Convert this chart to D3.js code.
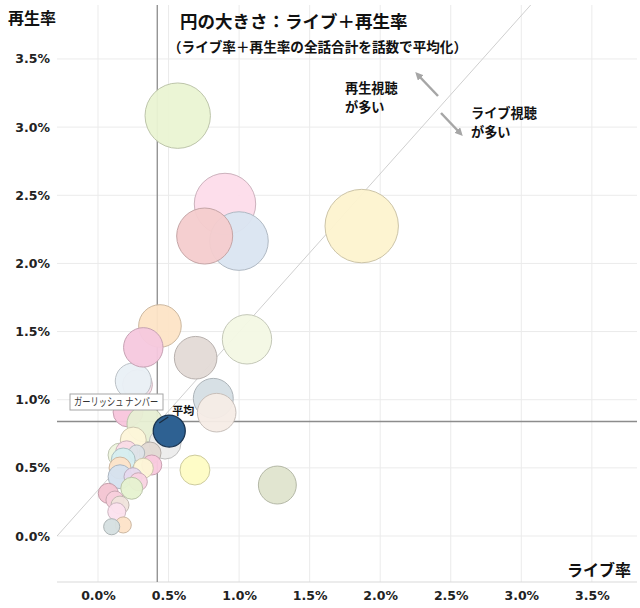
<!DOCTYPE html>
<html><head><meta charset="utf-8">
<script src="https://cdn.jsdelivr.net/npm/d3@7"></script>
<style>
html,body{margin:0;padding:0;background:#fff;}
svg text{font-family:"Noto Sans CJK JP","Noto Sans",sans-serif;}
</style></head>
<body><svg id="chart" width="640" height="608"></svg>
<script>
// ---- data (percent values) ----
const liveRate   = [0.900,0.999,0.756,0.565,1.869,0.439,0.692,1.056,0.817,0.841,0.280,0.250,0.321,0.213,0.333,0.250,0.475,0.369,0.156,0.203,0.274,0.179,0.381,0.321,0.156,0.156,0.248,0.286,0.239,0.073,0.120,0.156,0.133,0.179,0.097,0.687,1.271];
const replayRate = [2.436,2.164,2.201,3.084,2.274,1.541,1.308,1.443,1.010,0.905,1.110,1.137,1.384,0.910,0.822,0.704,0.682,0.609,0.594,0.618,0.609,0.558,0.521,0.497,0.499,0.435,0.435,0.398,0.350,0.313,0.264,0.227,0.178,0.081,0.068,0.484,0.374];
const sizeValue  = [2.91,2.65,2.42,3.30,4.16,1.40,1.40,1.88,1.23,1.15,0.69,1.00,1.20,0.69,1.00,0.52,0.79,0.37,0.44,0.37,0.20,0.44,0.31,0.31,0.37,0.44,0.25,0.25,0.37,0.31,0.25,0.25,0.25,0.20,0.20,0.69,1.11];
const bubbleColors = ["#fddcea","#dae5f1","#f4cccd","#eaf4d3","#fdf3cf","#fde4c6","#e3dad6","#f3f8e4","#d5dee4","#f6ece6","#fbe0ea","#e9f0f6","#f5c8de","#f8c5dc","#e7efd3","#fdf5d9","#ececec","#e2d9d3","#eef5de","#fadbe7","#dde3e8","#d5eef0","#f9c9dd","#fdf5d6","#fde3c8","#d5e1ef","#e7d9ee","#f9d3e1","#e6f2d0","#f3c4d2","#f8d0dc","#f0e4dc","#fce1ee","#fde3c8","#d5dfe0","#fefcc4","#dfe4cd"];
const average = {live:0.505, replay:0.770, size:0.79, label:"平均"};
const meanLive = 0.42, meanReplay = 0.84;
const refLine = [[-0.29,0.0],[3.07,3.9]];
const xTicks = [0,0.5,1.0,1.5,2.0,2.5,3.0,3.5];
const yTicks = [0,0.5,1.0,1.5,2.0,2.5,3.0,3.5];
const titleText = "円の大きさ：ライブ＋再生率";
const subtitleText = "（ライブ率＋再生率の全話合計を話数で平均化）";
const yAxisTitle = "再生率", xAxisTitle = "ライブ率";
const noteUp = ["再生視聴","が多い"], noteDown = ["ライブ視聴","が多い"];
const calloutText = "ガーリッシュ ナンバー";

// ---- layout ----
const L=57,R=637,T=5,B=582;
const svg = d3.select("#chart");
const x = d3.scaleLinear().domain([-0.2906,3.820]).range([L,R]);
const y = d3.scaleLinear().domain([-0.3375,3.896]).range([B,T]);
const r = d3.scaleSqrt().domain([0,1]).range([0,18]);
const fmt = d => d.toFixed(1)+"%";

const defs = svg.append("defs");
defs.append("clipPath").attr("id","plot").append("rect").attr("x",L).attr("y",T).attr("width",R-L).attr("height",B-T);

// grid
svg.append("g").selectAll("line").data(xTicks).join("line")
  .attr("x1",d=>x(d)).attr("x2",d=>x(d)).attr("y1",T).attr("y2",B)
  .attr("stroke","#ebebeb").attr("stroke-width",1);
svg.append("g").selectAll("line").data(yTicks).join("line")
  .attr("x1",L).attr("x2",R).attr("y1",d=>y(d)).attr("y2",d=>y(d))
  .attr("stroke","#ebebeb").attr("stroke-width",1);
svg.append("line").attr("x1",L).attr("x2",R).attr("y1",B).attr("y2",B).attr("stroke","#d9d9d9");

// axes labels via d3 axes
const xAxis = svg.append("g").attr("transform",`translate(0,${B})`)
  .call(d3.axisBottom(x).tickValues(xTicks).tickFormat(fmt).tickSize(0).tickPadding(9));
const yAxis = svg.append("g").attr("transform",`translate(${L},0)`)
  .call(d3.axisLeft(y).tickValues(yTicks).tickFormat(fmt).tickSize(0).tickPadding(7));
[xAxis,yAxis].forEach(a=>{
  a.select(".domain").remove();
  a.selectAll("text").attr("font-size",12.5).attr("font-weight","bold").attr("fill","#222")
   .style("font-family",'"DejaVu Sans",sans-serif');
});

// reference diagonal
svg.append("path").datum(refLine).attr("clip-path","url(#plot)")
  .attr("d",d3.line().x(d=>x(d[0])).y(d=>y(d[1])))
  .attr("stroke","#cfcfcf").attr("stroke-width",1).attr("fill","none");

// mean lines
svg.append("line").attr("x1",x(meanLive)).attr("x2",x(meanLive)).attr("y1",T).attr("y2",B)
  .attr("stroke","#8c8c8c").attr("stroke-width",1.3);
svg.append("line").attr("x1",L).attr("x2",R).attr("y1",y(meanReplay)).attr("y2",y(meanReplay))
  .attr("stroke","#8c8c8c").attr("stroke-width",1.3);

// bubbles
const data = liveRate.map((v,i)=>({live:v, replay:replayRate[i], size:sizeValue[i], color:bubbleColors[i]}));
svg.append("g").selectAll("circle").data(data).join("circle")
  .attr("cx",d=>x(d.live)).attr("cy",d=>y(d.replay)).attr("r",d=>r(d.size))
  .attr("fill",d=>d.color).attr("fill-opacity",0.95)
  .attr("stroke",d=>d3.color(d.color).darker(0.6)).attr("stroke-width",1);

// average bubble
svg.append("circle").attr("cx",x(average.live)).attr("cy",y(average.replay)).attr("r",r(average.size))
  .attr("fill","#2e6192").attr("stroke","#1a3552").attr("stroke-width",1.3);
svg.append("line").attr("x1",x(average.live)-10).attr("y1",y(average.replay)-8)
  .attr("x2",x(average.live)-1).attr("y2",y(average.replay)-14)
  .attr("stroke","#1c2d40").attr("stroke-width",1.3);
svg.append("text").attr("x",x(average.live)+3).attr("y",y(average.replay)-16)
  .attr("font-size",11).attr("font-weight","bold").attr("fill","#111").text(average.label);

// callout box
const cb = svg.append("g");
cb.append("rect").attr("x",70).attr("y",394).attr("width",93).attr("height",16)
  .attr("fill","#fff").attr("stroke","#a6a6a6");
cb.append("text").attr("transform","translate(74,406) scale(0.75,1)").attr("font-size",11).attr("fill","#333")
  .text(calloutText);

// titles
svg.append("text").attr("x",8).attr("y",24).attr("font-size",16).attr("font-weight","bold").attr("fill","#111").text(yAxisTitle);
svg.append("text").attr("x",631).attr("y",576).attr("text-anchor","end").attr("font-size",16).attr("font-weight","bold").attr("fill","#111").text(xAxisTitle);
svg.append("text").attr("x",180).attr("y",28).attr("font-size",17.5).attr("font-weight","bold").attr("fill","#111").text(titleText);
svg.append("text").attr("x",168).attr("y",52).attr("font-size",13.6).attr("font-weight","bold").attr("fill","#111").text(subtitleText);

// notes
noteUp.forEach((t,i)=>svg.append("text").attr("x",345).attr("y",93+i*19.3)
  .attr("font-size",13.2).attr("font-weight","bold").attr("fill","#111").text(t));
noteDown.forEach((t,i)=>svg.append("text").attr("x",471).attr("y",118+i*19.3)
  .attr("font-size",13.2).attr("font-weight","bold").attr("fill","#111").text(t));

// arrows
defs.append("marker").attr("id","arr").attr("viewBox","0 0 10 10").attr("refX",5).attr("refY",5)
  .attr("markerWidth",3.2).attr("markerHeight",3.2).attr("orient","auto")
  .append("path").attr("d","M0,0 L10,5 L0,10 z").attr("fill","#a6a6a6");
svg.append("line").attr("x1",438).attr("y1",96).attr("x2",418).attr("y2",75)
  .attr("stroke","#a6a6a6").attr("stroke-width",2.5).attr("marker-end","url(#arr)");
svg.append("line").attr("x1",441).attr("y1",113).attr("x2",460).attr("y2",133)
  .attr("stroke","#a6a6a6").attr("stroke-width",2.5).attr("marker-end","url(#arr)");
</script></body></html>
